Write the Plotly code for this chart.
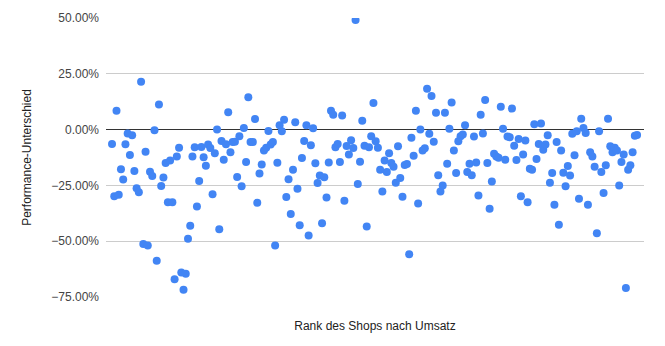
import plotly.graph_objects as go

# Performance difference (%) by shop rank (sales rank 1..N)
perf_pct = [
    -6.4, -29.9, 8.5, -29.2, -17.8, -22.4, -6.6, -1.8, -11.4, -2.5,
    -18.6, -26.3, -28.1, 21.4, -51.3, -9.9, -51.9, -18.9, -20.8, -0.3,
    -58.8, 11.2, -25.3, -21.5, -15.0, -32.6, -13.8, -32.6, -67.0, -12.1,
    -8.1, -64.0, -71.8, -64.6, -48.9, -43.1, -12.1, -7.9, -34.4, -23.0,
    -7.8, -12.4, -16.2, -6.7, -8.2, -29.0, -10.6, 0.0, -44.6, -5.1,
    -13.5, -6.6, 7.8, -10.2, -5.5, -5.4, -21.2, -3.0, -25.4, 0.7,
    -14.5, 14.5, -5.5, -5.5, 4.8, -32.8, -19.7, -15.6, -9.4, -8.1,
    -0.6, -6.7, -5.5, -51.9, -14.8, 1.9, -0.7, 4.4, -30.2, -22.3,
    -37.8, -18.0, 3.3, -26.5, -42.8, -12.7, -5.1, 1.9, -47.4, -7.0,
    0.6, -15.1, -23.9, -20.6, -42.0, -21.4, -30.4, -14.7, 8.5, 6.6,
    -7.9, -6.4, -14.5, 6.3, -31.9, -7.3, -11.2, -4.8, -8.2, 49.1,
    -24.4, -14.4, 4.0, -7.2, -43.4, -7.9, -3.0, 11.9, -5.2, -8.1,
    -18.0, -27.7, -13.8, -19.0, -10.6, -15.0, -16.6, -23.8, -7.5, -21.7,
    -30.1, -15.9, -15.4, -55.8, -3.6, -11.7, 8.5, -33.1, 0.0, -9.4,
    -8.4, 18.3, -1.9, 15.0, -5.4, 7.5, -20.5, -27.7, -25.1, 7.5,
    -15.3, 0.4, 12.1, -9.4, -19.4, -5.2, -3.0, -2.2, 2.0, -19.0,
    -15.3, -20.5, -3.1, -14.7, -29.5, 6.6, -1.8, 13.3, -15.0, -35.5,
    -23.3, -10.8, -12.1, -12.6, 10.2, 0.4, -13.5, -3.1, -3.4, 9.4,
    -7.2, -13.6, -4.2, -29.9, -11.2, -4.9, -32.6, -17.5, -18.0, 2.4,
    -13.2, -6.4, 2.7, -9.0, -6.7, -2.5, -23.8, -19.4, -33.7, -5.5,
    -42.6, -9.4, -19.3, -25.4, -16.3, -20.6, -1.9, -11.5, -0.7, -31.0,
    4.9, 0.7, -1.5, -33.7, -10.2, -12.1, -16.6, -46.4, -0.7, -19.0,
    -28.4, -16.0, 4.9, -7.5, -10.2, -8.1, -9.4, -25.0, -14.5, -11.1,
    -71.0, -18.0, -16.0, -10.2, -2.7, -2.4,
]
rank = list(range(1, len(perf_pct) + 1))
perf = [v / 100 for v in perf_pct]

y_ticks = [-0.75, -0.5, -0.25, 0, 0.25, 0.5]

fig = go.Figure(
    go.Scatter(
        x=rank, y=perf, mode="markers",
        marker=dict(color="#4285F4", size=8, line=dict(width=0)),
        hoverinfo="x+y",
    )
)

fig.update_layout(
    width=665, height=346,
    margin=dict(l=106, r=21, t=18, b=49),
    paper_bgcolor="white", plot_bgcolor="white",
    font=dict(family="Liberation Sans, Arial, sans-serif", size=12, color="#222"),
    showlegend=False,
    xaxis=dict(
        range=[-1.7, 239.1], showgrid=False, zeroline=False,
        showticklabels=False, showline=False, ticks="",
        title=dict(text="Rank des Shops nach Umsatz", standoff=24,
                   font=dict(size=12, color="#222")),
    ),
    yaxis=dict(
        range=[-0.75, 0.5], tickvals=y_ticks, tickformat=".2%",
        showgrid=True, gridcolor="#cccccc", gridwidth=1,
        zeroline=True, zerolinecolor="#333333", zerolinewidth=1,
        showline=False, ticks="", ticklabelstandoff=6,
        tickfont=dict(size=12, color="#444"),
        title=dict(text="Performance-Unterschied", standoff=17,
                   font=dict(size=12, color="#222")),
    ),
)

fig.write_html("out.html")
